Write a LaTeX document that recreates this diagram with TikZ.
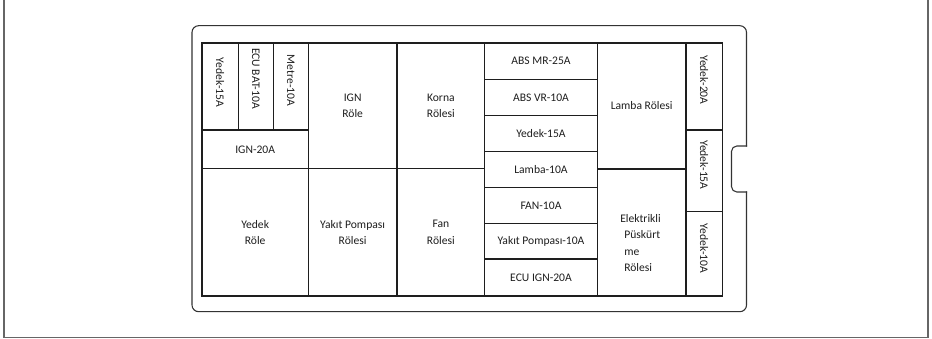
\documentclass[tikz,border=0pt]{standalone}
\usepackage{fontspec}
\setmainfont{Carlito}
\usepackage{graphicx}
\definecolor{ink}{HTML}{1E1E1E}
\definecolor{casecol}{HTML}{333333}
\definecolor{framecol}{HTML}{666666}
\tikzset{
  cellbox/.style={draw=ink, line width=0.9pt, inner sep=0pt, font=\fontsize{8.7}{12.3}\selectfont, text=ink, align=center},
  lbl/.style={inner sep=0pt, font=\fontsize{8.7}{12.3}\selectfont, text=ink, align=center},
  caseline/.style={draw=casecol, line width=0.8pt, line cap=rect},
  frameline/.style={draw=framecol, line width=0.9pt}
}
\newcommand\fbcell[6]{%
  \node[cellbox, minimum width={(#4-#2)*0.75pt}, minimum height={(#5-#3)*0.75pt}] (#1) at ({(#2+#4)/2},{(#3+#5)/2}) {#6};}
\begin{document}
\begin{tikzpicture}[x=0.75pt,y=-0.75pt]
\useasboundingbox (0,0) rectangle (932,339);
\clip (0,0) rectangle (932,339);
% outer frame
\coordinate (f1) at (4,-5);
\coordinate (f2) at (4,337.5);
\coordinate (f3) at (928,337.5);
\coordinate (f4) at (928,-5);
\draw[frameline] (f1) -- (f2) -- (f3) -- (f4);
% case
\coordinate (c1) at (746.5,146);
\coordinate (c2) at (746.5,25.7);
\coordinate (c3) at (192,25.7);
\coordinate (c4) at (192,311.7);
\coordinate (c5) at (746.5,311.7);
\coordinate (c6) at (746.5,192);
\coordinate (n1) at (731.5,146);
\coordinate (n2) at (731.5,192);
\draw[caseline, rounded corners=5pt] (c1) -- (c2) -- (c3) -- (c4) -- (c5) -- (c6);
\draw[caseline, rounded corners=4pt] (c1) -- (n1) -- (n2) -- (c6);
% left block
\fbcell{y15}{202}{43}{238.3}{130}{}
\fbcell{ecub}{238.3}{43}{273.3}{130}{}
\fbcell{metre}{273.3}{43}{308.3}{130}{}
\node[lbl, rotate=-90] (ly15) at ([yshift=3pt]y15.center) {Yedek-15A};
\node[lbl, rotate=-90] (lecub) at ([yshift=6pt]ecub.center) {ECU BAT-10A};
\node[lbl, rotate=-90] (lmetre) at ([yshift=4.5pt]metre.center) {Metre-10A};
\fbcell{ign20}{202}{130}{308.3}{168.7}{IGN-20A}
\fbcell{ignr}{308.3}{43}{397}{168.7}{IGN\\Röle}
\fbcell{korna}{397}{43}{484.7}{168.7}{Korna\\Rölesi}
\fbcell{yedekr}{202}{168.7}{308.3}{296}{Yedek\\Röle}
\fbcell{yakitr}{308.3}{168.7}{397}{296}{Yakıt Pompası\\Rölesi}
\fbcell{fanr}{397}{168.7}{484.7}{296}{Fan\\Rölesi}
% fuse column
\fbcell{absmr}{484.7}{43}{597.3}{79.3}{ABS MR-25A}
\fbcell{absvr}{484.7}{79.3}{597.3}{115.7}{ABS VR-10A}
\fbcell{y15b}{484.7}{115.7}{597.3}{151.7}{Yedek-15A}
\fbcell{lamba10}{484.7}{151.7}{597.3}{187.7}{Lamba-10A}
\fbcell{fan10}{484.7}{187.7}{597.3}{223.3}{FAN-10A}
\fbcell{yakit10}{484.7}{223.3}{597.3}{259}{Yakıt Pompası-10A}
\fbcell{ecuign}{484.7}{259}{597.3}{296}{ECU IGN-20A}
% relays
\fbcell{lambar}{597.3}{43}{686}{169}{Lamba Rölesi}
\fbcell{elekr}{597.3}{169}{686}{296}{}
\node[lbl, align=left, anchor=west] (lelek) at (624,243) {\hspace*{-3pt}Elektrikli\\Püskürt\\me\\Rölesi};
% right column
\fbcell{y20}{686}{43}{722.3}{130}{}
\fbcell{y15c}{686}{130}{722.3}{211.7}{}
\fbcell{y10}{686}{211.7}{722.3}{296}{}
\node[lbl, rotate=-90] (ly20) at ([yshift=5pt]y20.center) {Yedek-20A};
\node[lbl, rotate=-90] (ly15c) at ([yshift=4.5pt]y15c.center) {Yedek-15A};
\node[lbl, rotate=-90] (ly10) at ([yshift=4pt]y10.center) {Yedek-10A};
\end{tikzpicture}
\end{document}
